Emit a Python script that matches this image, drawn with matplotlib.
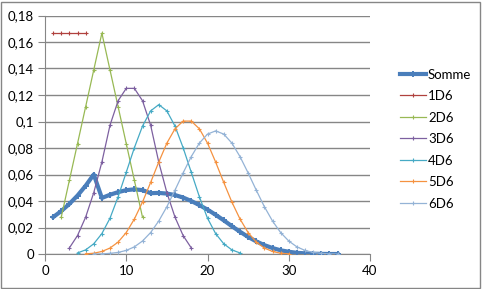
import numpy as np
import matplotlib
matplotlib.use('Agg')
import matplotlib.pyplot as plt
from matplotlib.patches import Rectangle
from matplotlib.ticker import FuncFormatter

plt.rcParams['font.family'] = ['Lato', 'DejaVu Sans']

# sums of n dice, x values and probabilities
x_somme = list(range(1, 37))
somme = [0.0278, 0.0324, 0.0378, 0.0441, 0.0515, 0.0600, 0.0423, 0.0447, 0.0467,
         0.0482, 0.0488, 0.0482, 0.0459, 0.0461, 0.0456, 0.0445, 0.0426, 0.0400,
         0.0369, 0.0335, 0.0296, 0.0254, 0.0210, 0.0168, 0.0129, 0.0095, 0.0067,
         0.0045, 0.0028, 0.0017, 0.0009, 0.0005, 0.0002, 0.0001, 0.0000, 0.0000]

# only five points are visible for 1D6 in the chart
x_1d6 = [1, 2, 3, 4, 5]
d1 = [0.1667, 0.1667, 0.1667, 0.1667, 0.1667]

x_2d6 = list(range(2, 13))
d2 = [0.0278, 0.0556, 0.0833, 0.1111, 0.1389, 0.1667, 0.1389, 0.1111, 0.0833,
      0.0556, 0.0278]

x_3d6 = list(range(3, 19))
d3 = [0.0046, 0.0139, 0.0278, 0.0463, 0.0694, 0.0972, 0.1157, 0.1250, 0.1250,
      0.1157, 0.0972, 0.0694, 0.0463, 0.0278, 0.0139, 0.0046]

x_4d6 = list(range(4, 25))
d4 = [0.0008, 0.0031, 0.0077, 0.0154, 0.0270, 0.0432, 0.0617, 0.0802, 0.0965,
      0.1080, 0.1127, 0.1080, 0.0965, 0.0802, 0.0617, 0.0432, 0.0270, 0.0154,
      0.0077, 0.0031, 0.0008]

x_5d6 = list(range(5, 31))
d5 = [0.0001, 0.0006, 0.0019, 0.0045, 0.0090, 0.0162, 0.0264, 0.0392, 0.0540,
      0.0694, 0.0837, 0.0945, 0.1003, 0.1003, 0.0945, 0.0837, 0.0694, 0.0540,
      0.0392, 0.0264, 0.0162, 0.0090, 0.0045, 0.0019, 0.0006, 0.0001]

x_6d6 = list(range(6, 37))
d6 = [0.0000, 0.0001, 0.0005, 0.0012, 0.0027, 0.0054, 0.0098, 0.0162, 0.0249,
      0.0357, 0.0482, 0.0612, 0.0735, 0.0837, 0.0905, 0.0929, 0.0905, 0.0837,
      0.0735, 0.0612, 0.0482, 0.0357, 0.0249, 0.0162, 0.0098, 0.0054, 0.0027,
      0.0012, 0.0005, 0.0001, 0.0000]

labels = ['Somme', '1D6', '2D6', '3D6', '4D6', '5D6', '6D6']
colors = ['#4A7EBB', '#B0413E', '#98B954', '#7D60A0', '#46AAC5', '#F59240', '#94B3D6']
series = [(x_somme, somme), (x_1d6, d1), (x_2d6, d2), (x_3d6, d3),
          (x_4d6, d4), (x_5d6, d5), (x_6d6, d6)]

fig = plt.figure(figsize=(4.82, 2.89), dpi=100)
ax = fig.add_axes([45 / 482, 1 - 254 / 289, 325 / 482, 238.5 / 289])

handles = []
for k, ((xs, ys), lab, c) in enumerate(zip(series, labels, colors)):
    if k == 0:
        kw = dict(lw=3.0, ms=4, mew=1.4)
    else:
        kw = dict(lw=0.9, ms=3, mew=0.8)
    h, = ax.plot(xs, ys, color=c, marker='+', zorder=3 + k,
                 solid_joinstyle='round', label=lab, **kw)
    handles.append(h)

ax.set_xlim(0, 40)
ax.set_ylim(0, 0.18)
ax.set_xticks([0, 10, 20, 30, 40])
ax.set_yticks(np.arange(0, 0.181, 0.02))
ax.yaxis.set_major_formatter(FuncFormatter(lambda v, p: ('%g' % round(v, 2)).replace('.', ',')))
ax.grid(axis='y', color='#868686', lw=1)
ax.set_axisbelow(True)
for s in ['top', 'right']:
    ax.spines[s].set_visible(False)
for s in ['left', 'bottom']:
    ax.spines[s].set_color('#868686')
ax.tick_params(direction='out', length=5, color='#868686', labelsize=9.5, pad=3)
ax.set_facecolor('none')

fig.legend(handles, labels, loc='upper left', bbox_to_anchor=(393 / 482, 1 - 62 / 289),
           frameon=False, fontsize=9.5, handlelength=2.0, handletextpad=0.15,
           labelspacing=0.72, borderpad=0)

fig.patches.append(Rectangle((1 / 482, 1 / 289), 479 / 482, 286 / 289, fill=False,
                             edgecolor='#868686', lw=1, transform=fig.transFigure))

fig.savefig('out.png', dpi=100)
